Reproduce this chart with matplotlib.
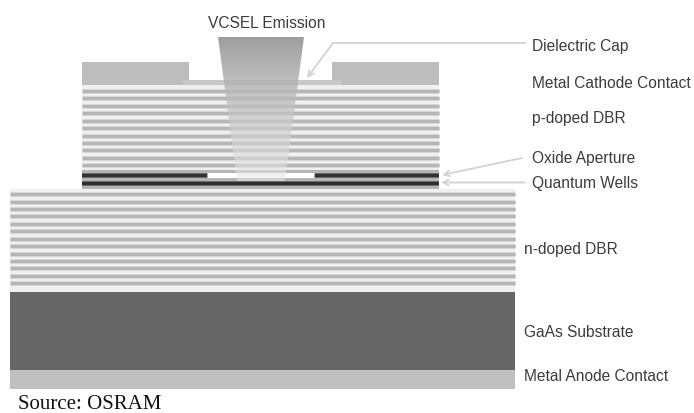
import numpy as np
from matplotlib import pyplot as plt
from matplotlib.patches import Polygon

W, H = 694, 414

# stripe centres, pixels from the top
p_dbr_y = [91.7, 99.3, 106.7, 114.3, 121.7, 129, 136.7, 144, 151.3, 159, 166]
n_dbr_y = [195, 202.7, 210, 217.3, 225, 232.3, 239.7, 247.3, 254.7, 262, 269.3, 276.7, 284]

# (x0, x1, y0, y1, colour)
blocks = [
    (10, 515, 190, 293, "#f0f0f0"),   # n-DBR background
    (10, 515, 293, 371, "#666666"),   # substrate
    (10, 515, 371, 390, "#c0c0c0"),   # anode
    (82, 439, 86, 172, "#f0f0f0"),    # p-DBR background
    (82, 189, 63, 86, "#bdbdbd"),     # cathode left
    (332, 439, 63, 86, "#bdbdbd"),    # cathode right
    (183, 342, 81, 86, "#c8c8c8"),    # dielectric cap
    (82, 439, 171, 190, "#b4b4b4"),   # active region
    (82, 207, 174, 178.5, "#6a6a6a"), # oxide left, soft edge
    (315, 439, 174, 178.5, "#6a6a6a"),# oxide right, soft edge
    (82, 207, 175, 178, "#333333"),   # oxide left
    (315, 439, 175, 178, "#333333"),  # oxide right
    (208, 314, 174, 179, "#ffffff"),  # aperture
    (82, 439, 181.5, 187, "#6a6a6a"), # quantum wells, soft edge
    (82, 439, 182.5, 186, "#2e2e2e"), # quantum wells
]

beam_x = [218, 304, 285, 237]
beam_y = [38, 38, 182, 182]
beam_alpha = [0.95, 0.55]
beam_grey = [0.60, 0.92]

labels = [
    ("VCSEL Emission", 267, 23, "center"),
    ("Dielectric Cap", 532, 46, "left"),
    ("Metal Cathode Contact", 532, 83, "left"),
    ("p-doped DBR", 532, 119, "left"),
    ("Oxide Aperture", 532, 159, "left"),
    ("Quantum Wells", 532, 184, "left"),
    ("n-doped DBR", 524, 250, "left"),
    ("GaAs Substrate", 524, 333, "left"),
    ("Metal Anode Contact", 524, 377, "left"),
]

fig = plt.figure(figsize=(W / 100, H / 100), dpi=100)
ax = fig.add_axes([0, 0, 1, 1])
ax.set_xlim(0, W)
ax.set_ylim(H, 0)
ax.axis("off")

for x0, x1, y0, y1, c in blocks:
    ax.fill_between([x0, x1], y0, y1, color=c, lw=0, zorder=2)

# soft edge under each stripe, the original is a blurry scan
for ys, x0, x1 in [(p_dbr_y, 82, 439), (n_dbr_y, 10, 515)]:
    ax.hlines(ys, x0, x1, color="#d6d6d6", lw=3.4, zorder=3, capstyle="butt")
    ax.hlines(ys, x0, x1, color="#b6b6b6", lw=2.2, zorder=3, capstyle="butt")

# emission beam, vertical gradient clipped to the trapezoid
t = np.linspace(0, 1, 150)[:, None]
grey = beam_grey[0] + (beam_grey[1] - beam_grey[0]) * t
alpha = beam_alpha[0] + (beam_alpha[1] - beam_alpha[0]) * t
rgba = np.dstack([grey, grey, grey, alpha])
im = ax.imshow(rgba, extent=[min(beam_x), max(beam_x), max(beam_y), min(beam_y)],
               aspect="auto", zorder=4)
clip = Polygon(np.column_stack([beam_x, beam_y]), transform=ax.transData, fc="none", ec="none")
ax.add_patch(clip)
im.set_clip_path(clip)
ax.set_xlim(0, W)
ax.set_ylim(H, 0)

# leader lines
line = "#d2d2d2"
ax.plot([525, 333], [44, 44], color=line, lw=1.3, zorder=5)
ax.annotate("", xy=(307, 79), xytext=(333, 44),
            arrowprops=dict(arrowstyle="->", color=line, lw=1.3, shrinkA=0, shrinkB=0))
ax.annotate("", xy=(442, 176), xytext=(522, 159),
            arrowprops=dict(arrowstyle="->", color=line, lw=1.3, shrinkA=0, shrinkB=0))
ax.annotate("", xy=(441, 183.5), xytext=(525, 183.5),
            arrowprops=dict(arrowstyle="->", color=line, lw=1.3, shrinkA=0, shrinkB=0))

for s, x, y, ha in labels:
    ax.text(x, y, s, ha=ha, va="center", fontsize=11.2, color="#3c3c3c",
            family="Liberation Sans", zorder=6)

ax.text(18, 405, "Source: OSRAM", ha="left", va="center", fontsize=15,
        color="#111111", family="Liberation Serif", zorder=6)

fig.savefig("out.png", dpi=100)
